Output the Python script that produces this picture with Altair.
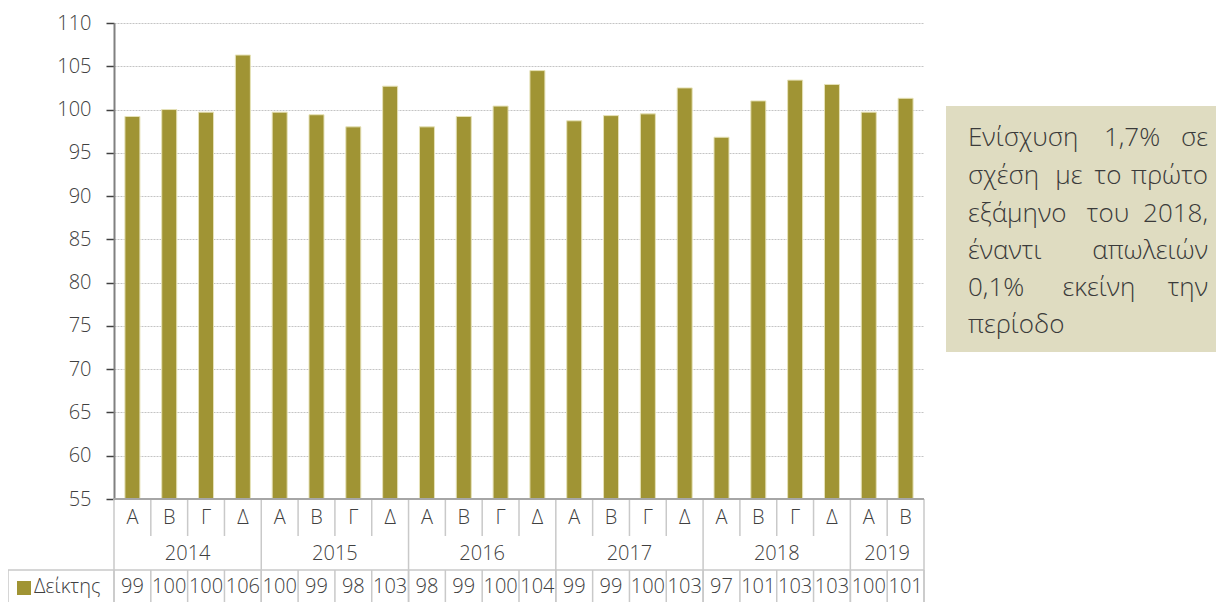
import altair as alt
import pandas as pd

# ---------------- data ----------------
quarters = ["Α", "Β", "Γ", "Δ"] * 5 + ["Α", "Β"]
years = ["2014", "2015", "2016", "2017", "2018", "2019"]
quarters_per_year = [4, 4, 4, 4, 4, 2]
values = [99.2, 100.0, 99.7, 106.3, 99.7, 99.4, 98.0, 102.7,
          98.0, 99.2, 100.4, 104.5, 98.7, 99.3, 99.5, 102.5,
          96.8, 101.0, 103.4, 102.9, 99.7, 101.3]
table_values = [99, 100, 100, 106, 100, 99, 98, 103, 98, 99, 100, 104,
                99, 99, 100, 103, 97, 101, 103, 103, 100, 101]
series_name = "Δείκτης"
y_ticks = list(range(55, 111, 5))

# annotation text, justified by hand: (line, word, anchor, align)
note_words = [
    (0, "Ενίσχυση", "L", "left"), (0, "1,7%", 1018, "center"), (0, "σε", "R", "right"),
    (1, "σχέση", "L", "left"), (1, "με", 955, "center"), (1, "το", 994, "center"),
    (1, "πρώτο", "R", "right"),
    (2, "εξάμηνο", "L", "left"), (2, "του", 994, "center"), (2, "2018,", "R", "right"),
    (3, "έναντι", "L", "left"), (3, "απωλειών", "R", "right"),
    (4, "0,1%", "L", "left"), (4, "εκείνη", 985, "center"), (4, "την", "R", "right"),
    (5, "περίοδο", "L", "left"),
]

# ---------------- layout ----------------
FONT = "Open Sans"
TXT = "#404040"
BAR = "#A09434"
SEP = "#c9c9c9"
W, H = 810, 476
n = len(values)

bars_df = pd.DataFrame({
    "pos": [i + 0.5 for i in range(n)],
    "q": quarters,
    "value": values,
    "label": [str(v) for v in table_values],
})

starts, s = [], 0
for c in quarters_per_year:
    starts.append(s)
    s += c
year_df = pd.DataFrame({"pos": [st + c / 2 for st, c in zip(starts, quarters_per_year)],
                        "year": years})
year_bounds = starts + [n]
all_bounds = list(range(n + 1))
q_bounds = [k for k in all_bounds if k not in year_bounds]

xscale = alt.Scale(domain=[0, n], nice=False, zero=False, padding=0)
one = pd.DataFrame({"a": [0]})

Q_BOT = 513      # bottom of quarter row
D_TOP = 547      # top of data row
BOT = 579        # bottom of chart

bars = alt.Chart(bars_df).mark_bar(size=15, color=BAR, stroke="#E6E2B8", strokeWidth=1).encode(
    x=alt.X("pos:Q", scale=xscale, axis=None),
    y=alt.Y("value:Q",
            scale=alt.Scale(domain=[55, 110], nice=False, zero=False),
            axis=alt.Axis(values=y_ticks, title=None, grid=True, gridDash=[2, 1],
                          gridColor="#c4c4c4", gridWidth=1, tickSize=8, tickColor="#404040",
                          tickWidth=1.5, domainColor="#808080", domainWidth=2,
                          labelFont=FONT, labelFontSize=20, labelColor=TXT,
                          labelPadding=15, labelFontWeight=300)),
    y2=alt.datum(55),
)

top_border = alt.Chart(one).mark_rule(color="#a6a6a6", strokeWidth=2).encode(
    x=alt.value(0), x2=alt.value(W), y=alt.value(H))

q_sep = alt.Chart(pd.DataFrame({"k": q_bounds})).mark_rule(color=SEP, strokeWidth=1.5).encode(
    x=alt.X("k:Q", scale=xscale, axis=None), y=alt.value(H), y2=alt.value(Q_BOT))

y_sep = alt.Chart(pd.DataFrame({"k": year_bounds})).mark_rule(color=SEP, strokeWidth=1.5).encode(
    x=alt.X("k:Q", scale=xscale, axis=None), y=alt.value(H), y2=alt.value(BOT))

d_sep = alt.Chart(pd.DataFrame({"k": all_bounds})).mark_rule(color=SEP, strokeWidth=1.5).encode(
    x=alt.X("k:Q", scale=xscale, axis=None), y=alt.value(D_TOP), y2=alt.value(BOT))

d_left = alt.Chart(one).mark_rule(color=SEP, strokeWidth=1.5).encode(
    x=alt.value(-106), y=alt.value(D_TOP), y2=alt.value(BOT))

d_top = alt.Chart(one).mark_rule(color=SEP, strokeWidth=1.5).encode(
    x=alt.value(-106), x2=alt.value(W), y=alt.value(D_TOP))

txt = dict(font=FONT, fontSize=20, color=TXT, baseline="middle", fontWeight=300)

q_text = alt.Chart(bars_df).mark_text(**txt).encode(
    x=alt.X("pos:Q", scale=xscale, axis=None), y=alt.value(495), text="q:N")

yr_text = alt.Chart(year_df).mark_text(**txt).encode(
    x=alt.X("pos:Q", scale=xscale, axis=None), y=alt.value(531), text="year:N")

val_text = alt.Chart(bars_df).mark_text(**txt).encode(
    x=alt.X("pos:Q", scale=xscale, axis=None), y=alt.value(564), text="label:N")

leg_sq = alt.Chart(one).mark_rect(color=BAR).encode(
    x=alt.value(-97), x2=alt.value(-83), y=alt.value(558), y2=alt.value(572))

leg_txt = alt.Chart(one).mark_text(align="left", **txt).encode(
    x=alt.value(-80), y=alt.value(564), text=alt.value(series_name))

box = alt.Chart(one).mark_rect(color="#DFDCC1").encode(
    x=alt.value(832), x2=alt.value(1102), y=alt.value(83), y2=alt.value(329))

line_base = [123, 161, 199, 236, 273, 310]
LEFT_X, RIGHT_X = 854, 1094

note_layers = []
for li, word, anc, al in note_words:
    xpos = LEFT_X if anc == "L" else RIGHT_X if anc == "R" else anc
    note_layers.append(
        alt.Chart(one).mark_text(font=FONT, fontSize=26, color="#3a3a3a", baseline="alphabetic",
                                 fontWeight=300, align=al).encode(
            x=alt.value(xpos), y=alt.value(line_base[li]), text=alt.value(word))
    )

chart = alt.layer(
    bars, q_sep, y_sep, d_sep, d_left, d_top, top_border,
    q_text, yr_text, val_text, leg_sq, leg_txt, box, *note_layers
).properties(
    width=W, height=H,
    padding={"left": 106, "top": 15, "right": 292, "bottom": 103},
    autosize=alt.AutoSizeParams(type="none"),
).configure_view(stroke=None)

chart.save("out.html", embed_options={"renderer": "svg", "actions": False})
